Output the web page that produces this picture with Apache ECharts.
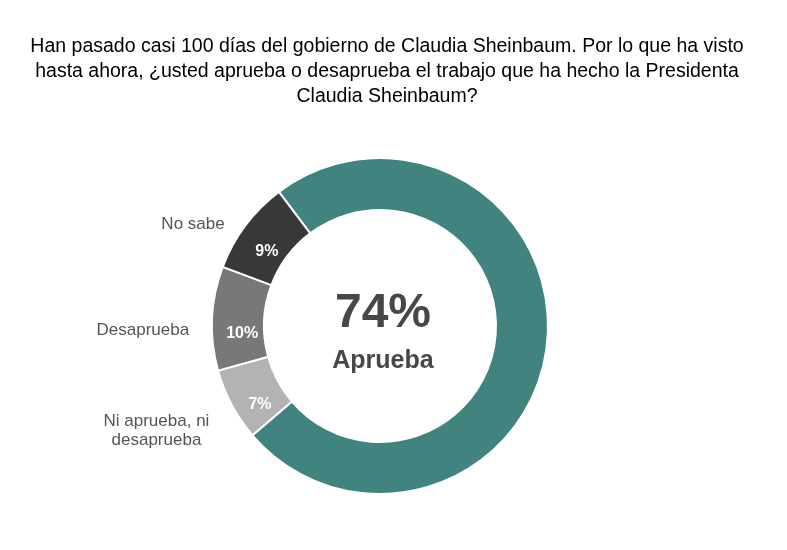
<!DOCTYPE html>
<html>
<head>
<meta charset="utf-8">
<script src="https://cdn.jsdelivr.net/npm/echarts@6/dist/echarts.min.js"></script>
<style>
html, body { margin: 0; padding: 0; background: #fff; }
#main { width: 787px; height: 550px; }
</style>
</head>
<body>
<div id="main"></div>
<script>
// datos de la encuesta
var categorias = ['Aprueba', 'Ni aprueba, ni\ndesaprueba', 'Desaprueba', 'No sabe'];
var valores = [74, 7, 10, 9];
var colores = ['#40837f', '#b3b3b3', '#787878', '#383838'];

var fuente = 'Liberation Sans, Arial, sans-serif';

// ajuste fino de las etiquetas (desplazamiento en px)
var ajusteDentro = { 'No sabe': [3, 12], 'Desaprueba': [7, 14], 'Ni aprueba, ni\ndesaprueba': [8, 11] };
var ajusteFuera = { 'No sabe': [-5, 3], 'Desaprueba': [-6, 12], 'Ni aprueba, ni\ndesaprueba': [-6, 23] };

var myChart = echarts.init(document.getElementById('main'));

var datos = categorias.map(function (c, i) {
    var d = { name: c, value: valores[i], itemStyle: { color: colores[i] } };
    if (i === 0) {
        // el principal va en el centro
        d.label = {
            position: 'center',
            offset: [3, 4],
            formatter: function (p) { return '{v|' + p.value + '%}\n{n|' + p.name + '}'; },
            rich: {
                v: { fontSize: 48, fontWeight: 'bold', color: '#474747', fontFamily: fuente, lineHeight: 62 },
                n: { fontSize: 25, fontWeight: 'bold', color: '#474747', fontFamily: fuente, lineHeight: 32 }
            }
        };
    } else {
        d.label = { offset: ajusteDentro[c] };
    }
    return d;
});

var etiquetas = categorias.map(function (c, i) {
    return {
        name: c, value: valores[i],
        itemStyle: { color: 'transparent' },
        label: { show: i !== 0, offset: ajusteFuera[c] }
    };
});

var option = {
    backgroundColor: '#fff',
    title: {
        text: 'Han pasado casi 100 días del gobierno de Claudia Sheinbaum. Por lo que ha visto\nhasta ahora, ¿usted aprueba o desaprueba el trabajo que ha hecho la Presidenta\nClaudia Sheinbaum?',
        left: 382,
        top: 29,
        textAlign: 'center',
        textStyle: { fontFamily: fuente, fontSize: 19.5, fontWeight: 'normal', color: '#000', lineHeight: 25 }
    },
    series: [
        {
            type: 'pie',
            center: [380, 326],
            radius: [116, 168],
            startAngle: 127,
            clockwise: true,
            silent: true,
            itemStyle: { borderColor: '#fff', borderWidth: 2 },
            label: {
                position: 'inside',
                formatter: '{c}%',
                color: '#fff',
                fontFamily: fuente,
                fontWeight: 'bold',
                fontSize: 16
            },
            labelLine: { show: false },
            data: datos
        },
        {
            type: 'pie',
            center: [380, 326],
            radius: [116, 168],
            startAngle: 127,
            clockwise: true,
            silent: true,
            z: 1,
            label: {
                position: 'outside',
                formatter: function (p) {
                    return p.name.split('\n').map(function (t) { return '{t|' + t + '}'; }).join('\n');
                },
                rich: {
                    t: { color: '#555', fontFamily: fuente, fontSize: 17, lineHeight: 19, align: 'center' }
                }
            },
            labelLine: { show: false, length: 6, length2: 6 },
            data: etiquetas
        }
    ]
};

myChart.setOption(option);
</script>
</body>
</html>
